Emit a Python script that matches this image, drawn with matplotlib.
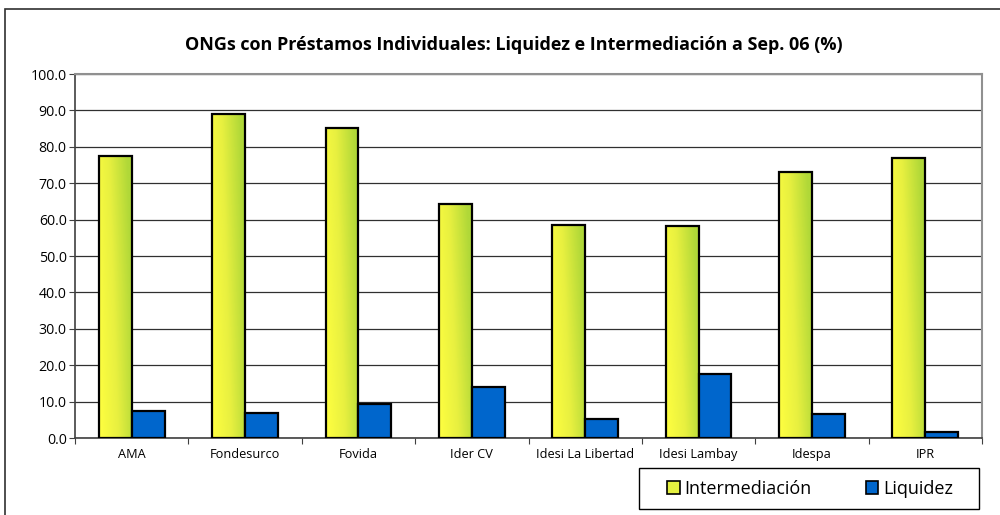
import matplotlib
matplotlib.use("Agg")
import matplotlib.pyplot as plt
import numpy as np
from matplotlib.patches import Rectangle, Patch
from matplotlib.colors import LinearSegmentedColormap

plt.rcParams['font.family'] = ['Open Sans', 'DejaVu Sans']

categories = ["AMA", "Fondesurco", "Fovida", "Ider CV", "Idesi La Libertad",
              "Idesi Lambay", "Idespa", "IPR"]
intermediacion = [77.5, 89.0, 85.1, 64.3, 58.6, 58.2, 73.1, 76.9]
liquidez = [7.5, 6.9, 9.3, 14.1, 5.2, 17.7, 6.7, 1.7]
yticks = [0, 10, 20, 30, 40, 50, 60, 70, 80, 90, 100]

W, H = 1000, 515
fig = plt.figure(figsize=(W / 100, H / 100), dpi=100)
# outer chart frame (extends past right/bottom edge)
fig.patches.append(Rectangle((5 / W, -0.05), 1.1, 1 - 9 / H + 0.05, transform=fig.transFigure,
                             fill=False, edgecolor='#303030', linewidth=1.2))
ax = fig.add_axes([75 / W, 1 - 438 / H, (982 - 75) / W, (438 - 74) / H])

x = np.arange(len(categories))
w = 0.29
grad = LinearSegmentedColormap.from_list('g', ['#FFFF40', '#E8F040', '#B0D838'])
# diagonal gradient: mostly horizontal, slightly greener towards the bottom
gx = np.linspace(0, 1, 32)
gy = np.linspace(0, 1, 64)
G = np.clip(0.85 * gx[None, :] + 0.25 * (1 - gy[:, None]), 0, 1)
bars_y = ax.bar(x - w/2, intermediacion, w, color='none', edgecolor='black',
                linewidth=1.6, zorder=4)
for b in bars_y:
    bx, by = b.get_x(), b.get_y()
    bw, bh = b.get_width(), b.get_height()
    im = ax.imshow(G, cmap=grad, aspect='auto', origin='upper', vmin=0, vmax=1,
                   extent=[bx, bx + bw, by, by + bh], zorder=3, interpolation='bilinear')
    im.set_clip_path(b)
ax.bar(x + w/2, liquidez, w, color='#0066CC', edgecolor='black', linewidth=1.6, zorder=4)

ax.set_xlim(-0.5, len(categories) - 0.5)
ax.set_ylim(0, 100)
ax.set_yticks(yticks)
ax.set_yticklabels([f"{v:.1f}" for v in yticks], fontsize=10.2)
ax.set_xticks(np.arange(len(categories) + 1) - 0.5, minor=False)
ax.set_xticklabels([])
ax.set_xticks(x, minor=True)
ax.set_xticklabels(categories, minor=True, fontsize=9.2)
ax.tick_params(axis='x', which='minor', length=0, pad=7)
ax.tick_params(axis='x', which='major', length=4, direction='out', color='#404040')
ax.tick_params(axis='y', length=4, direction='out', color='#404040', pad=2)
ax.yaxis.grid(True, color='#303030', linewidth=0.9, zorder=0)
ax.set_axisbelow(True)
for s in ['top', 'right']:
    ax.spines[s].set_color('#909090')
    ax.spines[s].set_linewidth(1.5)
for s in ['left', 'bottom']:
    ax.spines[s].set_color('#404040')
    ax.spines[s].set_linewidth(1.2)

fig.text(514 / W, 1 - 45 / H,
         "ONGs con Préstamos Individuales: Liquidez e Intermediación a Sep. 06 (%)",
         ha='center', va='center', fontsize=13, fontweight='bold')

# legend frame
fig.patches.append(Rectangle((639 / W, 1 - 509 / H), (979 - 639) / W, 41 / H,
                             transform=fig.transFigure, fill=False,
                             edgecolor='black', linewidth=1.0))
handles = [Patch(facecolor='#E4F040', edgecolor='black', linewidth=1.2, label='Intermediación'),
           Patch(facecolor='#0066CC', edgecolor='black', linewidth=1.2, label='Liquidez')]
leg = fig.legend(handles=handles, loc='center', bbox_to_anchor=(810 / W, 1 - 488.5 / H), ncol=2,
                 fontsize=13, frameon=False,
                 handlelength=0.7, handleheight=0.7, handletextpad=0.25, columnspacing=3.0,
                 borderpad=0.2)

fig.savefig("out.png", dpi=100)
